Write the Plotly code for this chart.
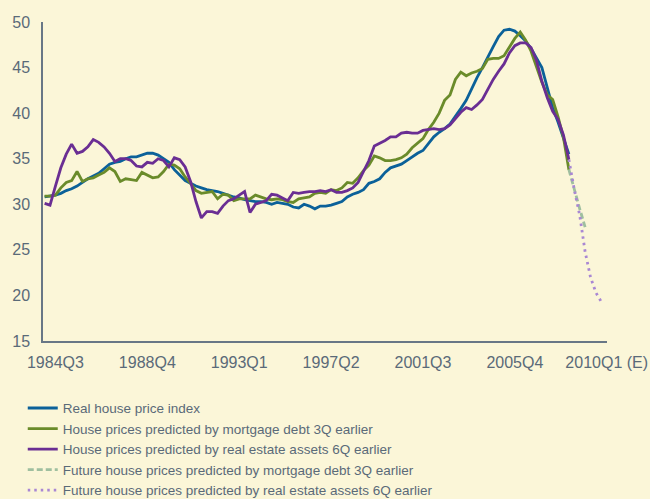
import plotly.graph_objects as go

# quarterly categories, 1984Q1 .. 2010Q1
quarters = [f"{y}Q{q}" for y in range(1984, 2011) for q in range(1, 5)][:105]

tick_vals = ["1984Q3", "1988Q4", "1993Q1", "1997Q2", "2001Q3", "2005Q4", "2010Q1"]
tick_text = ["1984Q3", "1988Q4", "1993Q1", "1997Q2", "2001Q3", "2005Q4", "2010Q1 (E)"]

# 1984Q1 .. 2008Q2
real_index = [
    30.8, 30.9, 31.0, 31.2, 31.5, 31.7, 32.0, 32.4, 32.8, 33.1,
    33.4, 33.9, 34.4, 34.6, 34.7, 35.0, 35.2, 35.2, 35.4, 35.6,
    35.6, 35.4, 35.0, 34.6, 33.8, 33.2, 32.6, 32.3, 32.0, 31.8,
    31.6, 31.5, 31.4, 31.2, 31.0, 30.8, 30.7, 30.5, 30.4, 30.3,
    30.3, 30.2, 30.0, 30.2, 30.1, 30.0, 29.7, 29.6, 30.0, 29.8,
    29.5, 29.8, 29.8, 29.9, 30.1, 30.3, 30.8, 31.1, 31.3, 31.6,
    32.3, 32.5, 32.8, 33.5, 34.0, 34.2, 34.4, 34.8, 35.2, 35.6,
    35.9, 36.7, 37.4, 37.9, 38.3, 38.8, 39.6, 40.5, 41.4, 42.7,
    43.9, 45.0, 46.2, 47.3, 48.4, 49.1, 49.2, 49.0, 48.5, 47.9,
    47.1, 46.0, 45.0, 42.8, 40.6, 39.0, 37.3, 35.5,
]

mortgage_pred = [
    30.9, 30.9, 31.0, 31.8, 32.4, 32.6, 33.6, 32.5, 32.8, 32.9,
    33.2, 33.5, 34.0, 33.6, 32.5, 32.8, 32.7, 32.6, 33.5, 33.2,
    32.9, 33.0, 33.6, 34.4, 34.3, 33.9, 33.0, 32.3, 31.5, 31.2,
    31.3, 31.4, 30.6, 31.1, 31.0, 30.4, 30.6, 30.6, 30.6, 31.0,
    30.8, 30.6, 30.5, 30.6, 30.5, 30.3, 30.2, 30.6, 30.7, 30.8,
    31.2, 31.3, 31.2, 31.6, 31.5, 31.8, 32.4, 32.3, 32.9, 33.7,
    34.3, 35.3, 35.1, 34.8, 34.8, 34.9, 35.1, 35.5, 36.2, 36.7,
    37.2, 38.2, 39.0, 40.0, 41.4, 42.0, 43.7, 44.5, 44.1, 44.4,
    44.6, 44.9, 45.9, 46.0, 46.0, 46.3, 47.2, 48.2, 48.9, 48.0,
    46.8, 45.1, 43.4, 42.0, 41.5, 39.6, 37.3, 33.8,
]

assets_pred = [
    30.1, 29.9, 32.0, 34.0, 35.5, 36.6, 35.6, 35.8, 36.3, 37.1,
    36.8, 36.3, 35.6, 34.7, 35.0, 35.0, 34.8, 34.2, 34.1, 34.6,
    34.5, 35.0, 34.8, 34.1, 35.1, 34.9, 34.1, 32.5, 30.3, 28.5,
    29.2, 29.2, 29.0, 29.8, 30.4, 30.6, 31.0, 31.4, 29.1, 30.0,
    30.2, 30.4, 31.1, 31.0, 30.7, 30.4, 31.3, 31.2, 31.3, 31.4,
    31.4, 31.5, 31.4, 31.6, 31.3, 31.3, 31.5, 31.8, 32.4, 33.6,
    34.8, 36.4, 36.7, 37.0, 37.4, 37.4, 37.8, 37.9, 37.8, 37.8,
    38.1, 38.2, 38.3, 38.2, 38.3, 38.7, 39.4, 40.1, 40.6, 40.4,
    40.9, 41.5, 42.6, 43.7, 44.6, 45.4, 46.6, 47.4, 47.7, 47.7,
    47.2, 45.8, 43.5, 41.7, 40.2, 39.3, 37.6, 34.9,
]

# forecasts start at 2008Q2
mortgage_future = [33.8, 31.5, 29.5, 27.5]
assets_future = [34.9, 31.6, 28.8, 24.8, 22.0, 20.3, 19.3]

n_hist = len(real_index)
start = n_hist - 1

BG = "#fbf6d8"
TXT = "#5a6a78"
AXIS = "#687786"

fig = go.Figure()

fig.add_trace(go.Scatter(
    x=quarters[:n_hist], y=real_index, mode="lines",
    name="Real house price index",
    line=dict(color="#0b6199", width=2.8)
))
fig.add_trace(go.Scatter(
    x=quarters[:n_hist], y=mortgage_pred, mode="lines",
    name="House prices predicted by mortgage debt 3Q earlier",
    line=dict(color="#6a8b2a", width=2.8)
))
fig.add_trace(go.Scatter(
    x=quarters[:n_hist], y=assets_pred, mode="lines",
    name="House prices predicted by real estate assets 6Q earlier",
    line=dict(color="#6a2e93", width=2.8)
))
fig.add_trace(go.Scatter(
    x=quarters[start:start + len(mortgage_future)], y=mortgage_future, mode="lines",
    name="Future house prices predicted by mortgage debt 3Q earlier",
    line=dict(color="#9fbf9f", width=2.8, dash="6px,3px")
))
fig.add_trace(go.Scatter(
    x=quarters[start:start + len(assets_future)], y=assets_future, mode="lines",
    name="Future house prices predicted by real estate assets 6Q earlier",
    line=dict(color="#a987d3", width=2.8, dash="2.5px,4px")
))

fig.update_layout(
    width=650, height=499,
    paper_bgcolor=BG, plot_bgcolor=BG,
    margin=dict(l=43, r=43, t=22, b=158, autoexpand=False),
    font=dict(family="Liberation Sans, Arial, sans-serif", color=TXT, size=16),
    showlegend=True,
    legend=dict(
        xref="container", yref="container",
        x=0.035, y=0.213, xanchor="left", yanchor="top",
        bgcolor="rgba(0,0,0,0)", font=dict(size=13.5, color=TXT),
        tracegroupgap=0, itemwidth=30,
    ),
)

fig.update_xaxes(
    type="category", categoryorder="array", categoryarray=quarters,
    range=[-0.3, 104.05],
    tickmode="array", tickvals=tick_vals, ticktext=tick_text,
    tickangle=0,
    showgrid=False, zeroline=False,
    showline=True, linecolor=AXIS, linewidth=1.5,
    ticks="", ticklabelstandoff=6,
    tickfont=dict(size=16, color=TXT),
)
fig.update_yaxes(
    range=[15, 50], dtick=5, tick0=15,
    showgrid=False, zeroline=False,
    showline=True, linecolor=AXIS, linewidth=1.5,
    ticks="", ticklabelstandoff=8,
    tickfont=dict(size=16, color=TXT),
)

# remove the default page margin so the figure fills the window
fig.write_html(
    "out.html",
    config={"displayModeBar": False},
    post_script="document.body.style.margin='0px';",
)
